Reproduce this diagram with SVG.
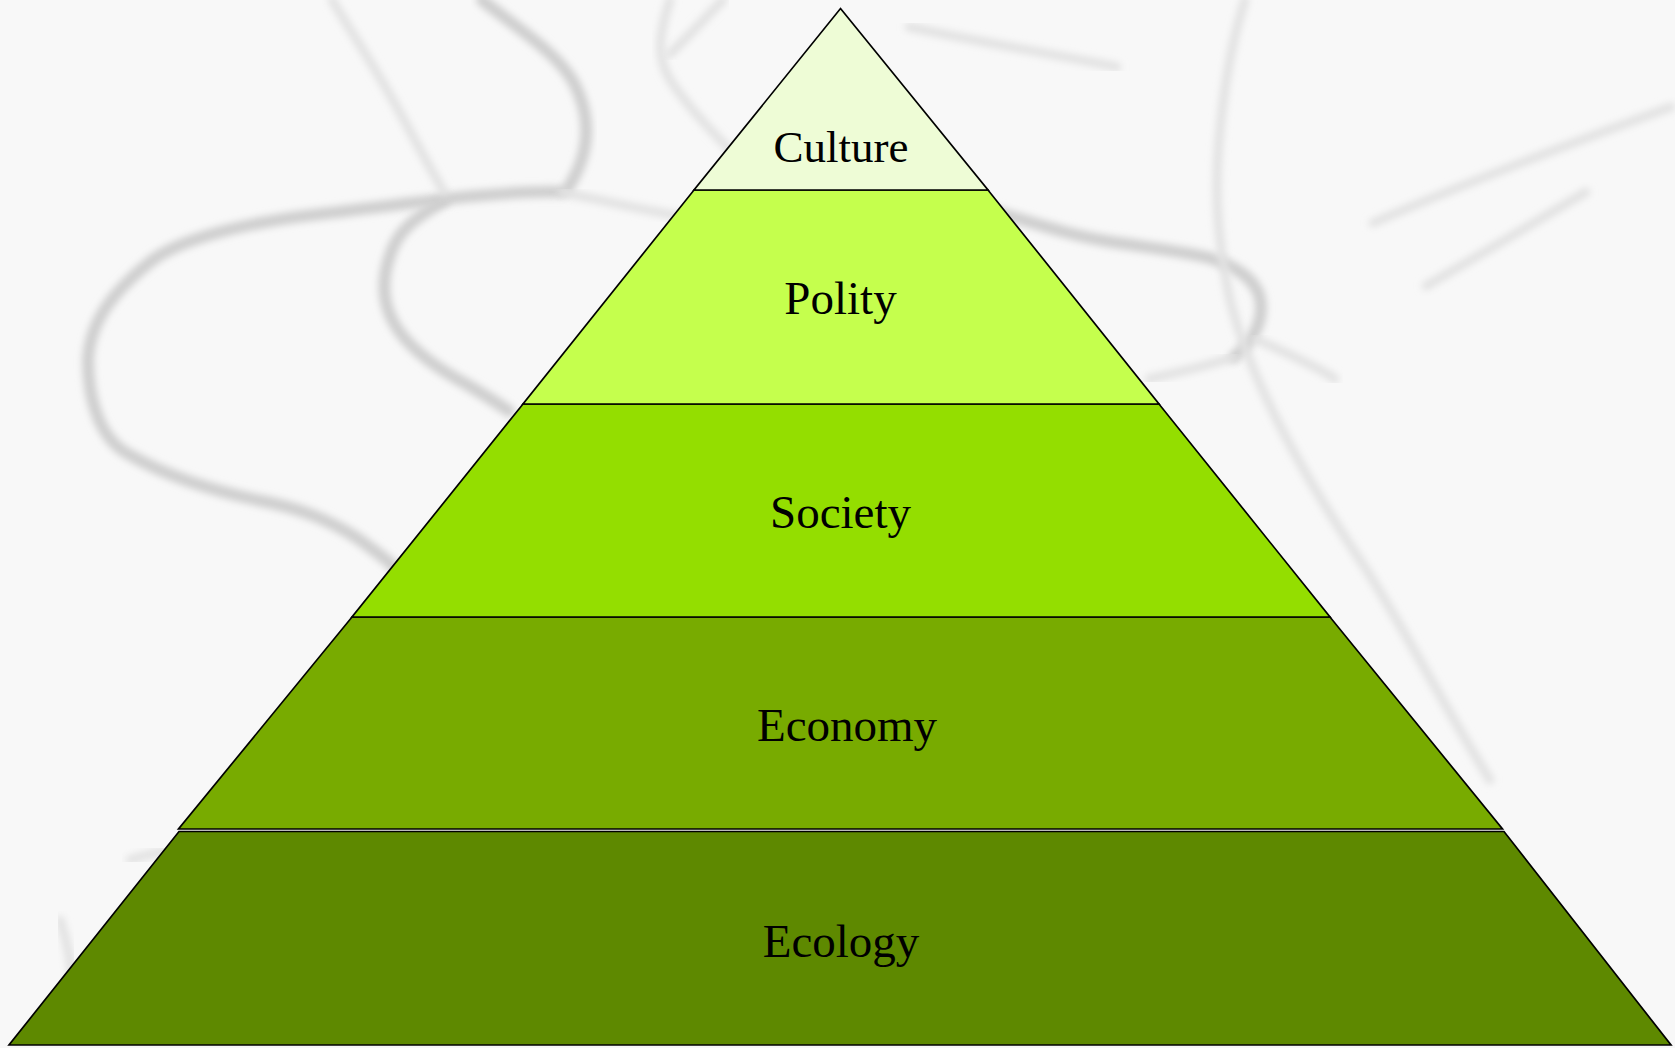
<svg xmlns="http://www.w3.org/2000/svg" width="1675" height="1048" viewBox="0 0 1675 1048">
<style>
.band{stroke:#000;stroke-width:1.7;stroke-linejoin:miter}
.lbl{font-family:"Liberation Serif","Times New Roman",serif;font-size:47px;fill:#000;text-anchor:middle}
.sk{fill:none;stroke:#cfcfcf;stroke-width:12;stroke-linecap:round;stroke-linejoin:round;filter:url(#blur)}
.sk2{fill:none;stroke:#e2e2e2;stroke-width:9;stroke-linecap:round;stroke-linejoin:round;filter:url(#blur)}
</style>
<defs>
<filter id="blur" x="-10%" y="-10%" width="120%" height="120%"><feGaussianBlur stdDeviation="3.5"/></filter>
</defs>
<rect id="background" x="0" y="0" width="1675" height="1048" fill="#f8f8f8"/>
<g id="sketch">
<path class="sk" d="M562,192 C500,190 400,205 321,214 C250,222 180,238 150,262 C115,290 90,320 88,360 C88,400 100,440 130,455 C170,478 220,492 257,500 C300,508 330,520 360,540 C380,555 395,565 400,575"/>
<path class="sk" d="M444,201 C420,215 400,228 392,250 C382,275 380,300 395,325 C410,350 440,370 466,384 C485,395 500,405 509,411"/>
<path class="sk2" d="M332,0 C350,30 370,60 390,95 C410,130 425,160 444,192"/>
<path class="sk" d="M482,0 C520,30 560,55 575,85 C590,115 592,150 568,188"/>
<path class="sk2" d="M562,192 C600,200 640,210 696,219"/>
<path class="sk2" d="M670,54 C690,35 705,18 723,0"/>
<path class="sk2" d="M909,27 C960,38 1040,52 1117,67"/>
<path class="sk" d="M989,210 C1040,225 1070,235 1106,241 C1150,248 1190,252 1213,259 C1245,270 1260,285 1261,305 C1262,325 1250,345 1234,357"/>
<path class="sk2" d="M1256,339 C1290,355 1320,368 1335,379"/>
<path class="sk2" d="M1149,379 C1180,372 1210,365 1234,357"/>
<path class="sk2" d="M1586,192 C1530,225 1480,255 1426,286"/>
<path class="sk2" d="M1373,223 C1460,185 1580,140 1671,107"/>
<path class="sk2" d="M1245,0 C1232,40 1224,89 1220,130 C1215,180 1215,230 1230,300 C1250,380 1300,470 1360,560 C1400,620 1440,700 1490,780"/>
<path class="sk2" d="M670,0 C660,30 655,55 670,80 C690,110 720,140 740,160"/>
<path class="sk2" d="M130,860 C160,850 190,848 210,850"/>
<path class="sk2" d="M60,920 C70,950 75,980 70,1010"/>
</g>
<g id="connectors"></g>
<g id="node-ecology">
<polygon class="band" fill="#5e8900" points="179,831.5 1504,831.5 1671,1045 9,1045"/>
<text class="lbl" x="841" y="957">Ecology</text>
</g>
<g id="node-economy">
<polygon class="band" fill="#78ab00" points="352,617 1330,617 1502.5,829 178.5,829"/>
<text class="lbl" x="847" y="741">Economy</text>
</g>
<g id="node-society">
<polygon class="band" fill="#94de00" points="523,404 1159,404 1330,617 352,617"/>
<text class="lbl" x="840.5" y="528">Society</text>
</g>
<g id="node-polity">
<polygon class="band" fill="#c5ff4d" points="694,190 988,190 1159,404 523,404"/>
<text class="lbl" x="840.5" y="314">Polity</text>
</g>
<g id="node-culture">
<polygon class="band" fill="#eefcd6" points="840.5,8.5 988,190 694,190"/>
<text class="lbl" x="841" y="162" style="font-size:45px">Culture</text>
</g>
</svg>
